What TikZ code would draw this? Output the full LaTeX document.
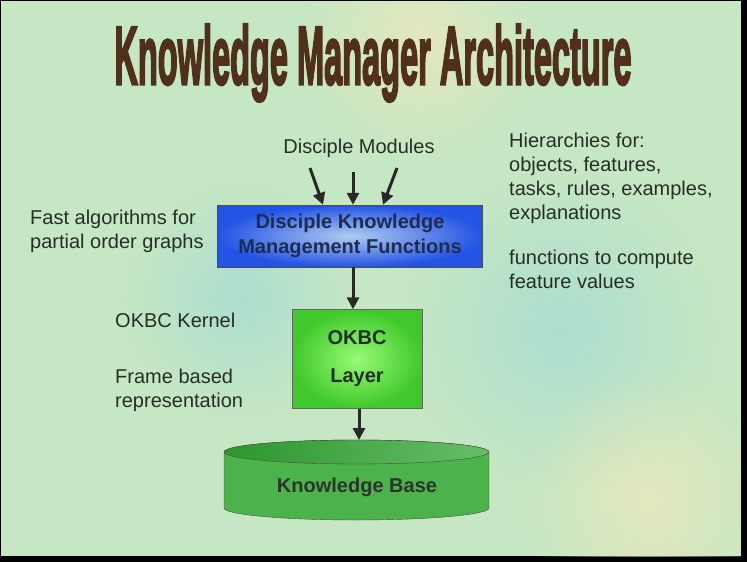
\documentclass[tikz,border=0pt]{standalone}
\usepackage{fontspec}
\setmainfont{Liberation Sans}
\newfontfamily\titlefont[FakeBold=3.5]{Liberation Sans Bold}
\usetikzlibrary{arrows.meta,fadings}

\tikzfading[name=softblob,inner color=transparent!0,outer color=transparent!100]

\definecolor{slidebg}{RGB}{198,231,195}
\definecolor{slidecyan}{RGB}{172,222,208}
\definecolor{slidesand}{RGB}{228,232,190}
\definecolor{notegray}{RGB}{38,46,38}
\definecolor{arrowgray}{RGB}{40,40,40}
\definecolor{titlebrown}{RGB}{80,48,26}
\definecolor{funcblue}{RGB}{36,84,228}
\definecolor{funclight}{RGB}{176,204,240}
\definecolor{functext}{RGB}{30,44,80}
\definecolor{layergreen}{RGB}{64,200,44}
\definecolor{layerlight}{RGB}{152,250,118}
\definecolor{kbgreen}{RGB}{76,178,76}
\definecolor{kbdark}{RGB}{46,150,46}
\definecolor{kbtext}{RGB}{44,52,44}

\begin{document}
\begin{tikzpicture}[x=1pt,y=-1pt,
  note/.style={anchor=north west,align=left,inner sep=0pt,text=notegray,
    font=\fontsize{20}{24}\selectfont},
  flow/.style={-{Triangle[length=12pt,width=12pt]},line width=3pt,draw=arrowgray},
  blob/.style={path fading=softblob},
  funcbox/.style={draw=black!70,thin,inner color=funclight,outer color=funcblue,
    minimum width=265pt,minimum height=62pt,align=center,text=functext,
    font=\fontsize{20}{25}\bfseries\selectfont},
  layerbox/.style={draw=black!60,thin,inner color=layerlight,outer color=layergreen,
    minimum width=130pt,minimum height=99pt,align=center,text=notegray,
    font=\fontsize{20}{24}\bfseries\selectfont}]

\useasboundingbox (0,0) rectangle (747,562);
\fill[black] (0,0) rectangle (747,562);
\fill[slidebg] (1,1) rectangle (741,556);
\begin{scope}
  \clip (1,1) rectangle (741,556);
  \fill[slidecyan,blob] (560,330) circle (160);
  \fill[slidesand,blob] (650,500) circle (130);
  \fill[slidesand,blob] (420,40) circle (120);
  \fill[slidecyan,blob] (240,300) circle (120);
\end{scope}

\node[text=titlebrown,font=\titlefont] (title) at (373,63) {\resizebox{517pt}{60pt}{Knowledge Manager Architecture}};

\node[note,anchor=base] (modules) at (359,153) {Disciple Modules};
\coordinate (m1) at (310,168);
\coordinate (m2) at (353,172);
\coordinate (m3) at (397,168);

\node[funcbox] (dkm) at (350,236) {Disciple Knowledge\\Management Functions};
\node[layerbox] (okbc) at (357,359) {OKBC\\[14pt]Layer};

% knowledge base drum
\fill[kbgreen,draw=black!70,thin] (224,452) -- (224,508) arc (180:0:132.5 and 12)
  -- (489,452) arc (0:-180:132.5 and 12) -- cycle;
\shade[left color=kbdark,right color=kbgreen!85!white,draw=black!70,thin] (356.5,452) ellipse (132.5 and 12);
\node[text=kbtext,font=\fontsize{20}{24}\bfseries\selectfont] (kb) at (357,487) {Knowledge Base};
\coordinate (kbtop) at (359,440);

\draw[flow] (m1) -- ([xshift=-27pt]dkm.north);
\draw[flow] (m2) -- ([xshift=3pt]dkm.north);
\draw[flow] (m3) -- ([xshift=33pt]dkm.north);
\draw[flow] ([xshift=3pt]dkm.south) -- ([xshift=-4pt]okbc.north);
\draw[flow] ([xshift=2pt]okbc.south) -- (kbtop);

\node[note] (fast) at (30,210) {Fast algorithms for\\partial order graphs};
\node[note] (kernel) at (115,313) {OKBC Kernel};
\node[note] (frame) at (115,369) {Frame based\\representation};
\node[note] (hier) at (509,133) {Hierarchies for:\\objects, features,\\tasks, rules, examples,\\explanations\\[21pt]functions to compute\\feature values};
\end{tikzpicture}
\end{document}
